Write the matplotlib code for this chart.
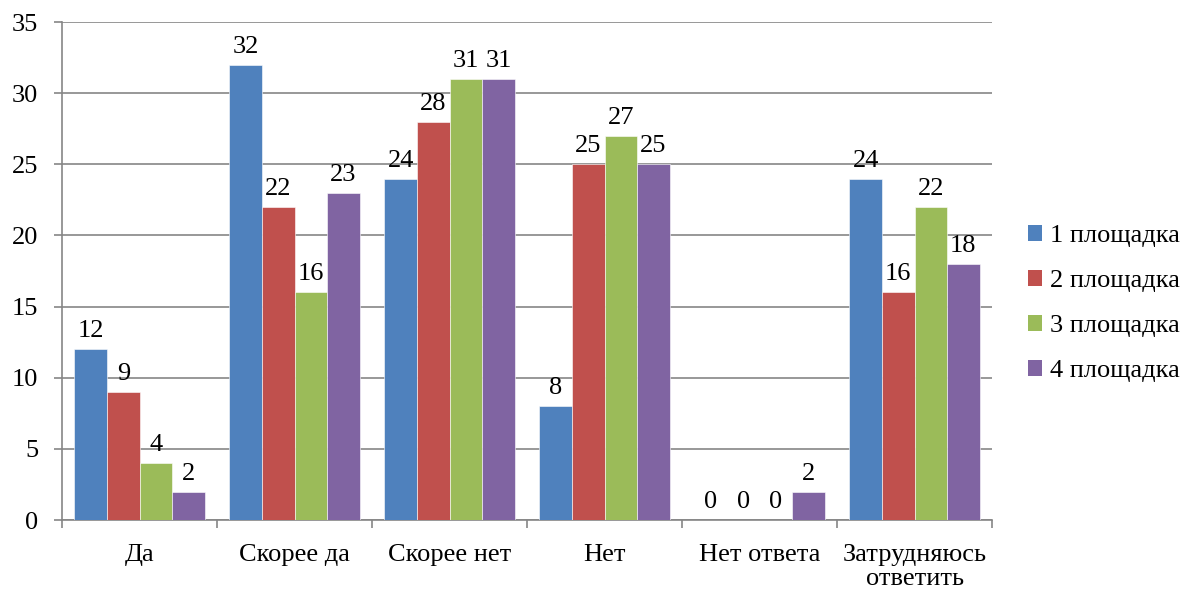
import numpy as np
import matplotlib.pyplot as plt
from matplotlib.patches import Patch

plt.rcParams['font.family'] = ['Liberation Serif', 'DejaVu Serif']

categories = ['Да', 'Скорее да', 'Скорее нет', 'Нет', 'Нет ответа', 'Затрудняюсь\nответить']
series_names = ['1 площадка', '2 площадка', '3 площадка', '4 площадка']
site1 = [12, 32, 24, 8, 0, 24]
site2 = [9, 22, 28, 25, 0, 16]
site3 = [4, 16, 31, 27, 0, 22]
site4 = [2, 23, 31, 25, 2, 18]
colors = ['#4F81BD', '#C0504D', '#9BBB59', '#8064A2']

series = [site1, site2, site3, site4]

fig = plt.figure(figsize=(11.84, 5.92), dpi=100)
ax = fig.add_axes([0.0524, 0.1216, 0.7855, 0.8412])

x = np.arange(len(categories))
bw = 0.21
for i, (vals, col) in enumerate(zip(series, colors)):
    pos = x + (i - 1.5) * bw
    ax.bar(pos, vals, width=bw, color=col, edgecolor='white', linewidth=0.4, zorder=3)
    for p, v in zip(pos, vals):
        ax.annotate(str(v), (p, v), xytext=(0, 5), textcoords='offset points',
                    ha='center', va='bottom', fontsize=19)

ax.set_xlim(-0.5, len(categories) - 0.5)
ax.set_ylim(0, 35)
ax.set_yticks(np.arange(0, 36, 5))
ax.yaxis.grid(True, color='#868686', linewidth=1.2, zorder=0)
ax.set_axisbelow(True)

ax.set_xticks(x)
ax.set_xticklabels(categories, fontsize=19, linespacing=1.12)
ax.set_xticks(np.arange(-0.5, len(categories)), minor=True)
ax.tick_params(axis='x', which='major', length=0, pad=17)
ax.tick_params(axis='x', which='minor', length=6, color='#868686', width=1.2)
ax.tick_params(axis='y', length=6, color='#868686', width=1.2, labelsize=19, pad=11)

for s in ['top', 'right']:
    ax.spines[s].set_visible(False)
for s in ['left', 'bottom']:
    ax.spines[s].set_color('#868686')
    ax.spines[s].set_linewidth(1.2)

handles = [Patch(facecolor=c, edgecolor='none') for c in colors]
fig.legend(handles, series_names, loc='center left', bbox_to_anchor=(0.868, 0.487),
           frameon=False, fontsize=19, handlelength=0.55, handleheight=0.55,
           handletextpad=0.3, labelspacing=0.86, borderpad=0, borderaxespad=0)

fig.savefig('out.png', dpi=100)
